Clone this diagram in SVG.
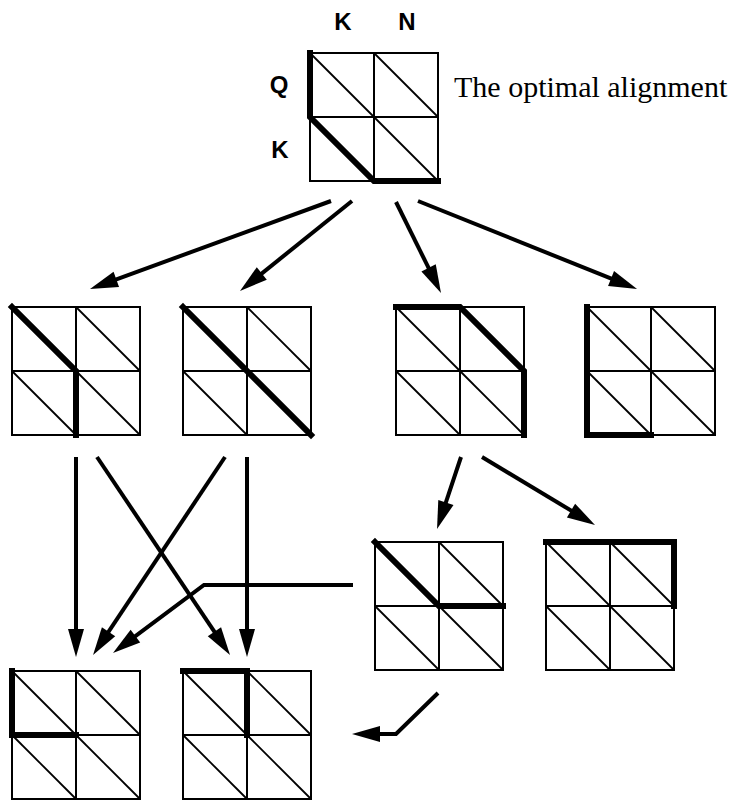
<svg xmlns="http://www.w3.org/2000/svg" xmlns:xlink="http://www.w3.org/1999/xlink" width="737" height="800" viewBox="0 0 737 800">
<style>
.frame{fill:#fff;stroke:#000;stroke-width:2}
.gl{stroke:#000;stroke-width:2;fill:none}
.dg{stroke:#000;stroke-width:1.8;fill:none}
.path{stroke:#000;stroke-width:6;fill:none;stroke-linecap:square;stroke-linejoin:miter}
.conn{stroke:#000;stroke-width:4;fill:none;marker-end:url(#ah)}
.lbl{font-family:"Liberation Sans",Arial,sans-serif;font-weight:bold;font-size:24px;text-anchor:middle;fill:#000}
.cap{font-family:"Liberation Serif","Times New Roman",serif;font-size:30px;fill:#000}
</style>
<defs>
<marker id="ah" viewBox="-6 -10 32 20" refX="0" refY="0" markerWidth="32" markerHeight="20" markerUnits="userSpaceOnUse" orient="auto">
<path d="M-5,-8 L23,0 L-5,8 Z" fill="#000"/>
</marker>
<g id="grid">
<rect class="frame" x="0" y="0" width="128" height="128"/>
<line class="gl" x1="64" y1="0" x2="64" y2="128"/>
<line class="gl" x1="0" y1="64" x2="128" y2="64"/>
<line class="dg" x1="0" y1="0" x2="64" y2="64"/>
<line class="dg" x1="64" y1="0" x2="128" y2="64"/>
<line class="dg" x1="0" y1="64" x2="64" y2="128"/>
<line class="dg" x1="64" y1="64" x2="128" y2="128"/>
</g>
</defs>
<rect width="737" height="800" fill="#fff"/>

<g id="top">
<use xlink:href="#grid" href="#grid" x="310" y="53"/>
<path class="path" d="M310,53 V117 L374,181 H438"/>
<text class="lbl" x="343" y="30">K</text>
<text class="lbl" x="407" y="30">N</text>
<text class="lbl" x="279" y="93">Q</text>
<text class="lbl" x="280" y="158">K</text>
<text class="cap" x="454" y="97">The optimal alignment</text>
</g>

<g id="n1">
<use xlink:href="#grid" href="#grid" x="12" y="307"/>
<path class="path" d="M12,307 L76,371 V435"/>
</g>
<g id="n2">
<use xlink:href="#grid" href="#grid" x="183" y="307"/>
<path class="path" d="M183,307 L311,435"/>
</g>
<g id="n3">
<use xlink:href="#grid" href="#grid" x="396" y="307"/>
<path class="path" d="M396,307 H460 L524,371 V435"/>
</g>
<g id="n4">
<use xlink:href="#grid" href="#grid" x="587" y="307"/>
<path class="path" d="M587,307 V435 H651"/>
</g>
<g id="n5">
<use xlink:href="#grid" href="#grid" x="375" y="542"/>
<path class="path" d="M375,542 L439,606 H503"/>
</g>
<g id="n6">
<use xlink:href="#grid" href="#grid" x="546" y="542"/>
<path class="path" d="M546,542 H674 V606"/>
</g>
<g id="n7">
<use xlink:href="#grid" href="#grid" x="12" y="671"/>
<path class="path" d="M12,671 V735 H76"/>
</g>
<g id="n8">
<use xlink:href="#grid" href="#grid" x="183" y="671"/>
<path class="path" d="M183,671 H247 V735"/>
</g>

<g id="connectors">
<line class="conn" x1="331" y1="201" x2="111.6" y2="281.1"/>
<line class="conn" x1="352" y1="201" x2="257.9" y2="276.6"/>
<line class="conn" x1="396" y1="202" x2="430.8" y2="272.4"/>
<line class="conn" x1="418" y1="201" x2="615.7" y2="280.4"/>
<line class="conn" x1="76" y1="457" x2="76" y2="634"/>
<line class="conn" x1="97" y1="457" x2="217.2" y2="635.9"/>
<line class="conn" x1="225" y1="457" x2="105.8" y2="635.9"/>
<line class="conn" x1="247" y1="457" x2="247" y2="634"/>
<polyline class="conn" points="353,585 204,585 131.4,639.2"/>
<line class="conn" x1="461" y1="457" x2="444.3" y2="507.2"/>
<line class="conn" x1="482" y1="457" x2="575.3" y2="513.1"/>
<polyline class="conn" points="438,693 396,734 375,734"/>
</g>
</svg>
